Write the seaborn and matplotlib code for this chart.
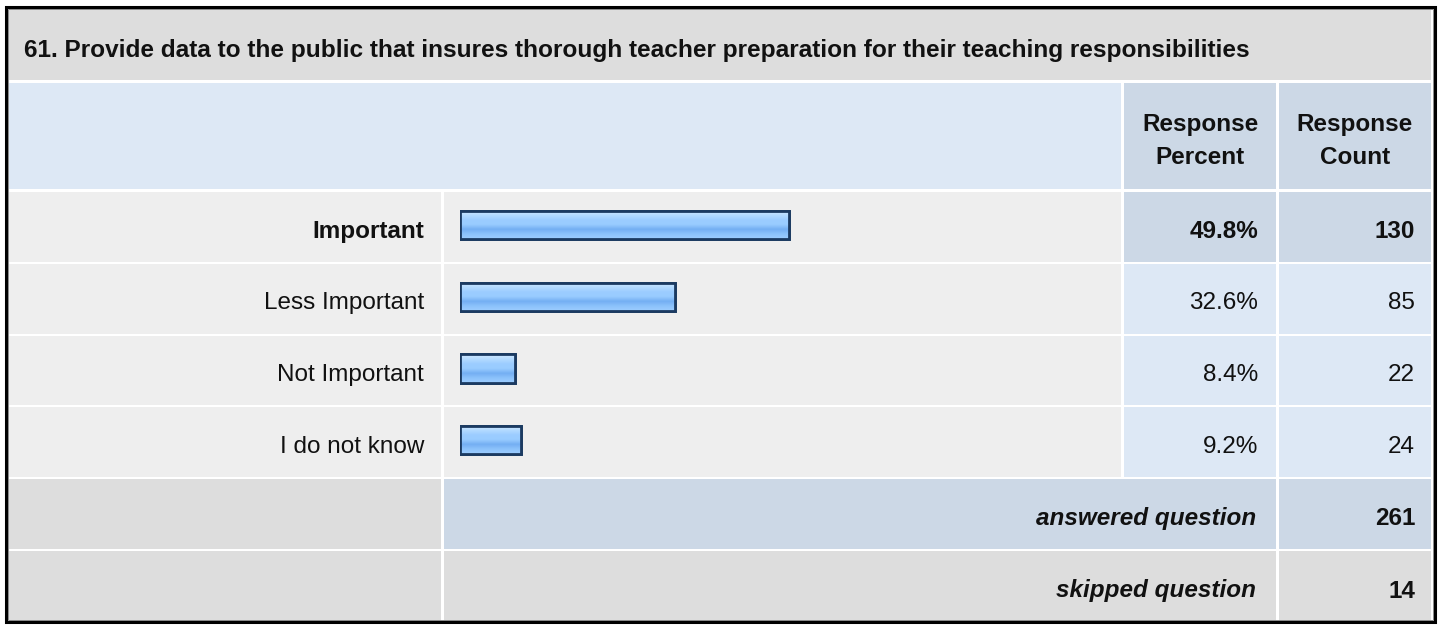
import numpy as np
import pandas as pd
import seaborn as sns
import matplotlib.pyplot as plt
from matplotlib.patches import Rectangle
from matplotlib.colors import LinearSegmentedColormap

# survey data
title = "61. Provide data to the public that insures thorough teacher preparation for their teaching responsibilities"
answers = ["Important", "Less Important", "Not Important", "I do not know"]
percents = [49.8, 32.6, 8.4, 9.2]
counts = [130, 85, 22, 24]
answered = 261
skipped = 14

sns.set_theme(style="white")
plt.rcParams['font.family'] = ['Liberation Sans', 'DejaVu Sans']

W, H = 1440, 625
fig = plt.figure(figsize=(14.4, 6.25), dpi=100)
fig.patch.set_facecolor("white")

# background axes in pixel coords for the table cells
ax = fig.add_axes([0, 0, 1, 1])
ax.set_xlim(0, W)
ax.set_ylim(H, 0)
ax.axis("off")

GRAY = "#DDDDDD"
LIGHT = "#EEEEEE"
BLUE1 = "#DDE8F5"
BLUE2 = "#CCD8E6"
TXT = "#111111"
FS = 17.5

def cell(x0, x1, y0, y1, c):
    ax.add_patch(Rectangle((x0, y0), x1 - x0, y1 - y0, facecolor=c, edgecolor="none"))

# column edges
c_lab = (9, 441)
c_bar = (444, 1121)
c_pct = (1124, 1276)
c_cnt = (1279, 1431)

# title band
cell(9, 1431, 9, 80, GRAY)
ax.text(24, 48, title, fontsize=17.6, fontweight="bold", ha="left", va="center_baseline", color=TXT)

# header
cell(9, 1121, 83, 189, BLUE1)
cell(*c_pct, 83, 189, BLUE2)
cell(*c_cnt, 83, 189, BLUE2)
for xc, lines in [(1200, ("Response", "Percent")), (1355, ("Response", "Count"))]:
    ax.text(xc, 122, lines[0], fontsize=FS, fontweight="bold", ha="center", va="center_baseline", color=TXT)
    ax.text(xc, 155, lines[1], fontsize=FS, fontweight="bold", ha="center", va="center_baseline", color=TXT)

row_top = 192
pitch = 71.8
top_i = int(np.argmax(percents))
for i, (lab, p, n) in enumerate(zip(answers, percents, counts)):
    y0 = row_top + i * pitch
    y1 = y0 + pitch - 2
    yc = (y0 + y1) / 2 + 2
    hi = i == top_i
    cell(*c_lab, y0, y1, LIGHT)
    cell(*c_bar, y0, y1, LIGHT)
    cell(*c_pct, y0, y1, BLUE2 if hi else BLUE1)
    cell(*c_cnt, y0, y1, BLUE2 if hi else BLUE1)
    fw = "bold" if hi else "normal"
    ax.text(424, yc, lab, fontsize=FS, fontweight=fw, ha="right", va="center_baseline", color=TXT)
    ax.text(1258, yc, f"{p:.1f}%", fontsize=FS, fontweight=fw, ha="right", va="center_baseline", color=TXT)
    ax.text(1415, yc, str(n), fontsize=FS, fontweight=fw, ha="right", va="center_baseline", color=TXT)

# answered / skipped rows
y0 = row_top + 4 * pitch
y1 = y0 + pitch - 2
cell(*c_lab, y0, y1, GRAY)
cell(c_bar[0], c_pct[1], y0, y1, BLUE2)
cell(*c_cnt, y0, y1, BLUE2)
ax.text(1256, (y0 + y1) / 2 + 2, "answered question", fontsize=FS, fontweight="bold", style="italic",
        ha="right", va="center_baseline", color=TXT)
ax.text(1415, (y0 + y1) / 2 + 2, str(answered), fontsize=FS, fontweight="bold", ha="right",
        va="center_baseline", color=TXT)
y0 = row_top + 5 * pitch
y1 = 622
cell(*c_lab, y0, y1, GRAY)
cell(c_bar[0], c_pct[1], y0, y1, GRAY)
cell(*c_cnt, y0, y1, GRAY)
ax.text(1256, (y0 + y1) / 2 + 2, "skipped question", fontsize=FS, fontweight="bold", style="italic",
        ha="right", va="center_baseline", color=TXT)
ax.text(1415, (y0 + y1) / 2 + 2, str(skipped), fontsize=FS, fontweight="bold", ha="right",
        va="center_baseline", color=TXT)

# outer border
ax.add_patch(Rectangle((5.5, 6.5), 1429, 615, facecolor="none", edgecolor="black", linewidth=2.2))
ax.add_patch(Rectangle((7.5, 8.5), 1425, 611, facecolor="none", edgecolor="#888888", linewidth=0.7))

# bar axes: 100% spans 660 px starting at x=460, bars sit a little above row centre
bx0, bx1 = 460, 1120
by0, by1 = row_top - 3, row_top - 3 + 4 * pitch
bax = fig.add_axes([bx0 / W, 1 - by1 / H, (bx1 - bx0) / W, (by1 - by0) / H])
bax.patch.set_alpha(0)
df = pd.DataFrame({"answer": answers, "percent": percents})
sns.barplot(data=df, x="percent", y="answer", orient="h", width=0.39, color="#99CCFF",
            edgecolor="#1B3A61", linewidth=2.0, ax=bax)

# glossy gradient inside each bar
grad_cols = ["#D2EAFF", "#B4DBFF", "#9CCDFF", "#99CCFF", "#74AFF3", "#8CC2FB", "#9DCDFF"]
cmap = LinearSegmentedColormap.from_list("gloss", grad_cols)
grad = np.linspace(0, 1, 64).reshape(-1, 1)
for patch in list(bax.patches):
    x, y = patch.get_x(), patch.get_y()
    w, h = patch.get_width(), patch.get_height()
    im = bax.imshow(grad, cmap=cmap, extent=[x, x + w, y + h, y], aspect="auto",
                    interpolation="bilinear", zorder=patch.get_zorder() + 0.1)
    im.set_clip_path(patch)
    bax.add_patch(Rectangle((x, y), w, h, facecolor="none", edgecolor="#1B3A61",
                            linewidth=2.0, zorder=patch.get_zorder() + 0.2))

bax.set_xlim(0, 100)
bax.set_ylim(3.5, -0.5)
bax.set_xlabel("")
bax.set_ylabel("")
bax.set_xticks([])
bax.set_yticks([])
for s in bax.spines.values():
    s.set_visible(False)

fig.savefig("out.png", dpi=100, facecolor="white")
